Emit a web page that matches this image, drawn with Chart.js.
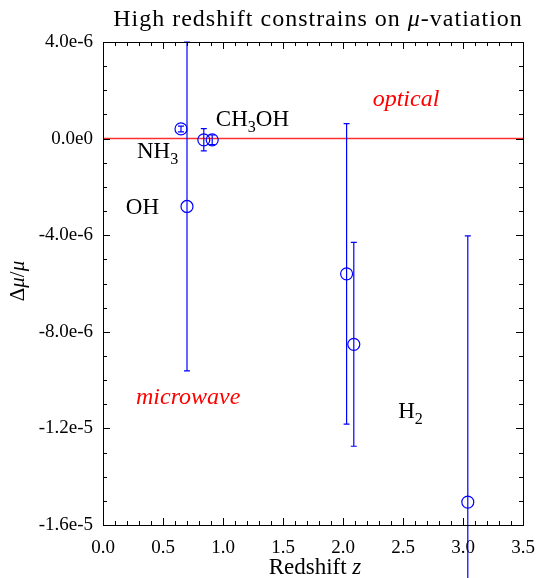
<!DOCTYPE html>
<html>
<head>
<meta charset="utf-8">
<script src="https://cdn.jsdelivr.net/npm/chart.js@4"></script>
<style>
  body { margin: 0; background: #fff; }
  #wrap { width: 537px; height: 578px; }
</style>
</head>
<body>
<div id="wrap"><canvas id="c"></canvas></div>
<script>
// redshift and delta mu / mu, with symmetric errors
const redshift = [0.65, 0.70, 0.84, 0.91, 2.03, 2.09, 3.04];
const dmu = [0.40e-6, -2.81e-6, -0.05e-6, -0.05e-6, -5.6e-6, -8.52e-6, -15.05e-6];
const dmuErr = [0.12e-6, 6.81e-6, 0.46e-6, 0.2e-6, 6.22e-6, 4.22e-6, 11.02e-6];

const xTicks = [0, 0.5, 1.0, 1.5, 2.0, 2.5, 3.0, 3.5];
const xTickLabels = ['0.0', '0.5', '1.0', '1.5', '2.0', '2.5', '3.0', '3.5'];
const yTicks = [-16e-6, -12e-6, -8e-6, -4e-6, 0, 4e-6];
const yTickLabels = ['-1.6e-5', '-1.2e-5', '-8.0e-6', '-4.0e-6', '0.0e0', '4.0e-6'];

const zeroLineX = [0, 3.5];
const zeroLineY = [0, 0];

const FONT = "'Liberation Serif', 'DejaVu Serif', serif";

// draw a string made of parts (italic / subscript)
function richText(ctx, parts, x, y, size, align, color, spacing) {
  ctx.save();
  ctx.fillStyle = color || '#000';
  ctx.textBaseline = 'alphabetic';
  ctx.textAlign = 'left';
  ctx.letterSpacing = (spacing || 0) + 'px';
  let w = 0;
  parts.forEach(p => {
    let s = p.sub ? size * 0.7 : size;
    ctx.font = (p.italic ? 'italic ' : '') + s + 'px ' + FONT;
    p.w = ctx.measureText(p.t).width;
    w += p.w;
  });
  let cx = align === 'center' ? x - w / 2 : x;
  parts.forEach(p => {
    let s = p.sub ? size * 0.7 : size;
    ctx.font = (p.italic ? 'italic ' : '') + s + 'px ' + FONT;
    ctx.fillText(p.t, cx, p.sub ? y + size * 0.28 : y);
    cx += p.w;
  });
  ctx.restore();
}

const labels = [
  { parts: [{ t: 'optical', italic: true }], x: 2.525, y: 1.34e-6, size: 24, align: 'center', color: '#ff0000' },
  { parts: [{ t: 'microwave', italic: true }], x: 0.71, y: -10.99e-6, size: 24, align: 'center', color: '#ff0000' },
  { parts: [{ t: 'CH' }, { t: '3', sub: true }, { t: 'OH' }], x: 0.94, y: 0.54e-6, size: 23, align: 'left' },
  { parts: [{ t: 'NH' }, { t: '3', sub: true }], x: 0.283, y: -0.79e-6, size: 23, align: 'left' },
  { parts: [{ t: 'OH' }], x: 0.19, y: -3.12e-6, size: 23, align: 'left' },
  { parts: [{ t: 'H' }, { t: '2', sub: true }], x: 2.46, y: -11.55e-6, size: 23, align: 'left' }
];

const frame = {
  id: 'frame',
  afterDraw(chart) {
    const ctx = chart.ctx;
    const a = chart.chartArea;
    const xs = chart.scales.x, ys = chart.scales.y;
    ctx.save();
    ctx.strokeStyle = '#000';
    ctx.lineWidth = 1;
    ctx.strokeRect(a.left + 0.5, a.top + 0.5, a.right - a.left, a.bottom - a.top);
    ctx.beginPath();
    for (let i = 1; i < 35; i++) {
      const px = Math.round(xs.getPixelForValue(i / 10)) + 0.5;
      const len = i % 5 === 0 ? 7 : 4;
      ctx.moveTo(px, a.bottom); ctx.lineTo(px, a.bottom - len);
      ctx.moveTo(px, a.top); ctx.lineTo(px, a.top + len);
    }
    for (let i = -15; i < 4; i++) {
      const py = Math.round(ys.getPixelForValue(i * 1e-6)) + 0.5;
      const len = i % 4 === 0 ? 7 : 4;
      ctx.moveTo(a.left, py); ctx.lineTo(a.left + len, py);
      ctx.moveTo(a.right, py); ctx.lineTo(a.right - len, py);
    }
    ctx.stroke();
    ctx.restore();

    // title and axis titles
    const mid = (a.left + a.right) / 2;
    richText(ctx, [{ t: 'High redshift constrains on ' }, { t: 'μ', italic: true }, { t: '-vatiation' }], mid + 5, 26, 24, 'center', '#000', 1);
    richText(ctx, [{ t: 'Redshift ' }, { t: 'z', italic: true }], mid + 2, 574, 23, 'center');
    ctx.save();
    ctx.translate(24, 281);
    ctx.rotate(-Math.PI / 2);
    richText(ctx, [{ t: 'Δ' }, { t: 'μ', italic: true }, { t: '/' }, { t: 'μ', italic: true }], 0, 0, 21, 'center');
    ctx.restore();

    labels.forEach(l => {
      richText(ctx, l.parts, xs.getPixelForValue(l.x), ys.getPixelForValue(l.y), l.size, l.align, l.color);
    });
  }
};

const errorBars = {
  id: 'errorBars',
  afterDatasetsDraw(chart) {
    const ctx = chart.ctx;
    const xs = chart.scales.x, ys = chart.scales.y;
    ctx.save();
    ctx.strokeStyle = '#0000ff';
    ctx.lineWidth = 1.2;
    ctx.beginPath();
    redshift.forEach((z, i) => {
      const px = xs.getPixelForValue(z);
      const top = ys.getPixelForValue(dmu[i] + dmuErr[i]);
      const bot = ys.getPixelForValue(dmu[i] - dmuErr[i]);
      ctx.moveTo(px, top); ctx.lineTo(px, bot);
      ctx.moveTo(px - 3, top); ctx.lineTo(px + 3, top);
      ctx.moveTo(px - 3, bot); ctx.lineTo(px + 3, bot);
    });
    ctx.stroke();
    ctx.restore();
  }
};

new Chart(document.getElementById('c'), {
  data: {
    datasets: [
      {
        type: 'scatter',
        data: redshift.map((z, i) => ({ x: z, y: dmu[i] })),
        pointStyle: 'circle',
        pointRadius: 6,
        pointHoverRadius: 6,
        borderColor: '#0000ff',
        backgroundColor: 'rgba(0,0,0,0)',
        borderWidth: 1.2,
        order: 0
      },
      {
        type: 'line',
        data: zeroLineX.map((x, i) => ({ x: x, y: zeroLineY[i] })),
        borderColor: '#ff3030',
        borderWidth: 1.5,
        pointRadius: 0,
        order: 1
      }
    ]
  },
  options: {
    responsive: true,
    maintainAspectRatio: false,
    animation: false,
    events: [],
    layout: { padding: { top: 42, right: 14, left: 0, bottom: 0 } },
    plugins: { legend: { display: false }, title: { display: false }, tooltip: { enabled: false } },
    scales: {
      x: {
        type: 'linear',
        min: 0, max: 3.5,
        grid: { display: false, drawTicks: false },
        border: { display: false },
        afterBuildTicks: s => { s.ticks = xTicks.map(v => ({ value: v })); },
        afterFit: s => { s.height = 53; s.paddingLeft = 0; s.paddingRight = 0; },
        ticks: {
          padding: 12,
          color: '#000',
          font: { family: FONT, size: 19 },
          maxRotation: 0,
          callback: (v, i) => xTickLabels[i]
        }
      },
      y: {
        type: 'linear',
        min: -16e-6, max: 4e-6,
        grid: { display: false, drawTicks: false },
        border: { display: false },
        afterBuildTicks: s => { s.ticks = yTicks.map(v => ({ value: v })); },
        afterFit: s => { s.width = 103; s.paddingTop = 0; s.paddingBottom = 0; },
        ticks: {
          padding: 10,
          color: '#000',
          font: { family: FONT, size: 19 },
          callback: (v, i) => yTickLabels[i]
        }
      }
    }
  },
  plugins: [frame, errorBars]
});
</script>
</body>
</html>
